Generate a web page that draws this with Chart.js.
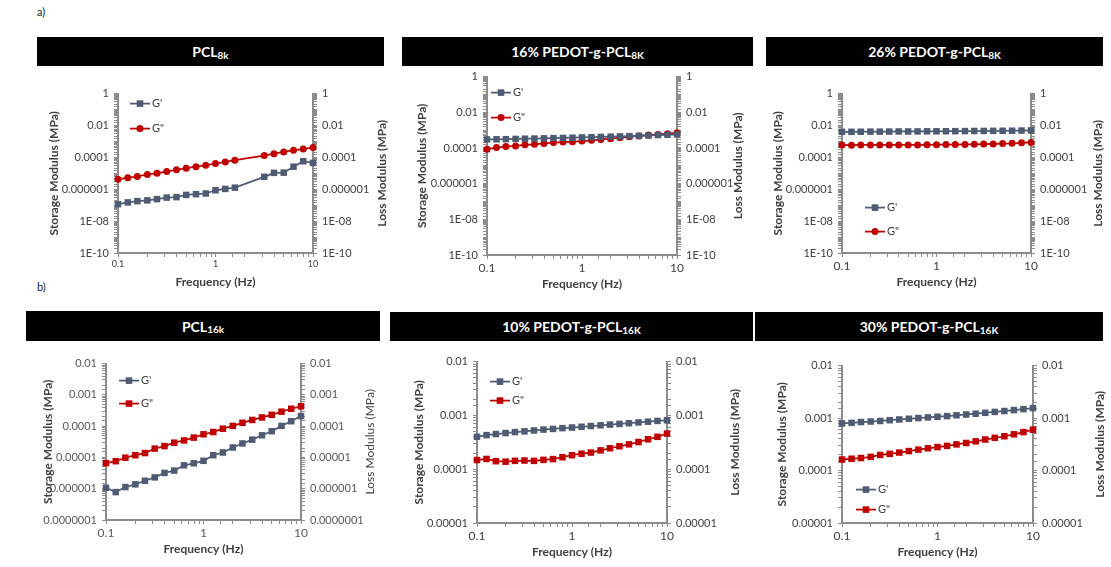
<!DOCTYPE html>
<html>
<head>
<meta charset="utf-8">
<script src="https://cdn.jsdelivr.net/npm/chart.js@4.4.1/dist/chart.umd.min.js"></script>
<style>
  body { margin: 0; background: #fff; width: 1111px; height: 567px; position: relative; overflow: hidden; font-family: Lato, 'Open Sans', sans-serif; }
  .bar { position: absolute; background: #000; color: #fff; font-weight: bold; font-size: 14px; display: flex; align-items: center; justify-content: center; }
  .bar sub { font-size: 10px; position: relative; top: 3px; vertical-align: baseline; }
  .tag { position: absolute; font-size: 11px; color: #222; }
  .panel { position: absolute; }
</style>
</head>
<body>
<div class="tag" style="left:37px;top:5px">a)</div>
<div class="tag" style="left:37px;top:280px">b)</div>

<div class="bar" style="left:37px;top:37px;width:347px;height:29px">PCL<sub>8k</sub></div>
<div class="bar" style="left:402px;top:37px;width:351px;height:29px">16% PEDOT-g-PCL<sub>8K</sub></div>
<div class="bar" style="left:766px;top:37px;width:337px;height:29px">26% PEDOT-g-PCL<sub>8K</sub></div>
<div class="bar" style="left:26px;top:311px;width:354px;height:30px">PCL<sub>16k</sub></div>
<div class="bar" style="left:390px;top:312px;width:363px;height:29px">10% PEDOT-g-PCL<sub>16K</sub></div>
<div class="bar" style="left:755px;top:312px;width:348px;height:29px">30% PEDOT-g-PCL<sub>16K</sub></div>

<div id="panels"></div>

<script>
// frequency sweep (Hz)
const freq = [0.1, 0.126, 0.158, 0.2, 0.251, 0.316, 0.398, 0.501, 0.631, 0.794, 1, 1.26, 1.58, 2, 2.51, 3.16, 3.98, 5.01, 6.31, 7.94, 10];
const freqA1 = [0.1, 0.126, 0.158, 0.2, 0.251, 0.316, 0.398, 0.501, 0.631, 0.794, 1, 1.26, 1.58, 3.16, 3.98, 5.01, 6.31, 7.94, 10];

// a) PCL8k
const a1Storage = [1.15e-7, 1.5e-7, 1.8e-7, 2.0e-7, 2.4e-7, 3.0e-7, 3.2e-7, 4.4e-7, 4.9e-7, 5.4e-7, 8.6e-7, 1.05e-6, 1.26e-6, 6.0e-6, 1.07e-5, 1.1e-5, 2.6e-5, 5.7e-5, 4.5e-5];
const a1Loss = [4.2e-6, 5.3e-6, 6.3e-6, 8.5e-6, 1.0e-5, 1.3e-5, 1.65e-5, 2.1e-5, 2.6e-5, 3.2e-5, 4.1e-5, 5.2e-5, 6.6e-5, 1.3e-4, 1.7e-4, 2.2e-4, 2.8e-4, 3.3e-4, 4.2e-4];
// a) 16% PEDOT-g-PCL8K
const a2Storage = [3.0e-4, 3.05e-4, 3.1e-4, 3.2e-4, 3.3e-4, 3.35e-4, 3.45e-4, 3.55e-4, 3.65e-4, 3.75e-4, 3.9e-4, 4.0e-4, 4.15e-4, 4.3e-4, 4.45e-4, 4.6e-4, 4.8e-4, 5.0e-4, 5.3e-4, 5.5e-4, 5.8e-4];
const a2Loss = [8.5e-5, 1.05e-4, 1.2e-4, 1.3e-4, 1.5e-4, 1.6e-4, 1.8e-4, 2.0e-4, 2.15e-4, 2.25e-4, 2.45e-4, 2.7e-4, 3.0e-4, 3.3e-4, 3.7e-4, 4.3e-4, 4.7e-4, 5.3e-4, 5.7e-4, 6.3e-4, 7.1e-4];
// a) 26% PEDOT-g-PCL8K
const a3Storage = [4.0e-3, 4.0e-3, 4.05e-3, 4.1e-3, 4.1e-3, 4.15e-3, 4.2e-3, 4.2e-3, 4.25e-3, 4.3e-3, 4.3e-3, 4.35e-3, 4.4e-3, 4.45e-3, 4.5e-3, 4.55e-3, 4.6e-3, 4.65e-3, 4.7e-3, 4.8e-3, 4.9e-3];
const a3Loss = [6.0e-4, 5.8e-4, 6.0e-4, 6.0e-4, 6.0e-4, 6.0e-4, 6.0e-4, 6.0e-4, 6.05e-4, 6.1e-4, 6.2e-4, 6.3e-4, 6.4e-4, 6.5e-4, 6.6e-4, 6.8e-4, 7.0e-4, 7.3e-4, 7.6e-4, 8.2e-4, 8.6e-4];
// b) PCL16k
const b1Storage = [1.07e-6, 7.8e-7, 1.13e-6, 1.38e-6, 1.8e-6, 2.3e-6, 3.2e-6, 3.8e-6, 5.6e-6, 6.5e-6, 7.8e-6, 1.18e-5, 1.44e-5, 2.08e-5, 2.8e-5, 3.7e-5, 5.1e-5, 6.9e-5, 1.02e-4, 1.44e-4, 2.1e-4];
const b1Loss = [6.6e-6, 7.6e-6, 9.8e-6, 1.18e-5, 1.38e-5, 1.92e-5, 2.3e-5, 2.96e-5, 3.5e-5, 4.3e-5, 5.5e-5, 6.5e-5, 8.3e-5, 1.02e-4, 1.28e-4, 1.58e-4, 1.9e-4, 2.3e-4, 2.9e-4, 3.6e-4, 4.3e-4];
// b) 10% PEDOT-g-PCL16K
const b2Storage = [4.0e-4, 4.3e-4, 4.5e-4, 4.7e-4, 4.9e-4, 5.05e-4, 5.25e-4, 5.45e-4, 5.6e-4, 5.8e-4, 5.95e-4, 6.15e-4, 6.35e-4, 6.55e-4, 6.75e-4, 6.95e-4, 7.15e-4, 7.4e-4, 7.65e-4, 7.9e-4, 8.1e-4];
const b2Loss = [1.48e-4, 1.55e-4, 1.41e-4, 1.38e-4, 1.43e-4, 1.45e-4, 1.43e-4, 1.49e-4, 1.54e-4, 1.67e-4, 1.82e-4, 1.94e-4, 2.04e-4, 2.24e-4, 2.45e-4, 2.67e-4, 2.9e-4, 3.2e-4, 3.6e-4, 4.0e-4, 4.6e-4];
// b) 30% PEDOT-g-PCL16K
const b3Storage = [7.9e-4, 8.1e-4, 8.4e-4, 8.6e-4, 8.8e-4, 9.1e-4, 9.4e-4, 9.7e-4, 1.0e-3, 1.03e-3, 1.06e-3, 1.09e-3, 1.13e-3, 1.17e-3, 1.21e-3, 1.26e-3, 1.31e-3, 1.36e-3, 1.42e-3, 1.48e-3, 1.55e-3];
const b3Loss = [1.62e-4, 1.68e-4, 1.73e-4, 1.82e-4, 1.98e-4, 2.08e-4, 2.2e-4, 2.35e-4, 2.5e-4, 2.65e-4, 2.8e-4, 2.95e-4, 3.15e-4, 3.35e-4, 3.6e-4, 3.9e-4, 4.2e-4, 4.5e-4, 4.9e-4, 5.4e-4, 6.0e-4];

// tick labels
const xTickValues = [0.1, 1, 10];
const xTickLabels = ['0.1', '1', '10'];
const yTickValuesA = [1e-10, 1e-8, 1e-6, 1e-4, 1e-2, 1];
const yTickLabelsA = ['1E-10', '1E-08', '0.000001', '0.0001', '0.01', '1'];
const yTickValuesB1 = [1e-7, 1e-6, 1e-5, 1e-4, 1e-3, 1e-2];
const yTickLabelsB1 = ['0.0000001', '0.000001', '0.00001', '0.0001', '0.001', '0.01'];
const yTickValuesB23 = [1e-5, 1e-4, 1e-3, 1e-2];
const yTickLabelsB23 = ['0.00001', '0.0001', '0.001', '0.01'];

const seriesNames = ["G'", 'G"'];
const storageColor = '#4f5b73';
const lossColor = '#c00000';
const axisColor = '#8c8c8c';
const textColor = '#404040';

const panels = [
  { plot: [118, 92, 313, 253], fx: freqA1, gp: a1Storage, gpp: a1Loss, yv: yTickValuesA, yl: yTickLabelsA,
    lossMarker: 'circle', leg: [12, 10, 35], xFont: 9, leftW: 75, rightOff: 69, rightBold: true, tickColor: textColor },
  { plot: [487, 75, 677, 255], fx: freq, gp: a2Storage, gpp: a2Loss, yv: yTickValuesA, yl: yTickLabelsA,
    lossMarker: 'circle', leg: [4, 16, 41], xFont: 12, leftW: 76, rightOff: 61, rightBold: true, tickColor: textColor },
  { plot: [842, 92, 1031, 253], fx: freq, gp: a3Storage, gpp: a3Loss, yv: yTickValuesA, yl: yTickLabelsA,
    lossMarker: 'circle', leg: [23, 114, 138], xFont: 12, leftW: 75, rightOff: 67, rightBold: true, tickColor: textColor },
  { plot: [106, 362, 301, 520], fx: freq, gp: b1Storage, gpp: b1Loss, yv: yTickValuesB1, yl: yTickLabelsB1,
    lossMarker: 'rect', leg: [13, 17, 40], xFont: 12, leftW: 69, rightOff: 69, rightBold: false, tickColor: '#595959' },
  { plot: [477, 360, 667, 523], fx: freq, gp: b2Storage, gpp: b2Loss, yv: yTickValuesB23, yl: yTickLabelsB23,
    lossMarker: 'rect', leg: [13, 20, 39], xFont: 12, leftW: 69, rightOff: 68, rightBold: true, tickColor: textColor },
  { plot: [842, 364, 1033, 523], fx: freq, gp: b3Storage, gpp: b3Loss, yv: yTickValuesB23, yl: yTickLabelsB23,
    lossMarker: 'rect', leg: [14, 124, 144], xFont: 12, leftW: 71, rightOff: 67, rightBold: true, tickColor: textColor }
];

const RIGHT_W = 86, TOP_PAD = 10, BOTTOM_H = 40;
const FONT = "Lato, 'Open Sans', sans-serif";

function labelFor(values, labels) {
  return function (v) {
    for (let i = 0; i < values.length; i++) {
      if (Math.abs(Math.log10(v) - Math.log10(values[i])) < 1e-6) return labels[i];
    }
    return '';
  };
}

function markerRadius(style) {
  return style === 'circle' ? 3.5 : 4.6;
}

const overlay = {
  id: 'overlay',
  afterDraw(chart, args, opts) {
    const { ctx, chartArea: a } = chart;
    // right axis title (reads bottom to top)
    ctx.save();
    ctx.translate(a.right + opts.rightOff, (a.top + a.bottom) / 2);
    ctx.rotate(-Math.PI / 2);
    ctx.font = (opts.rightBold ? 'bold ' : '') + '12px ' + FONT;
    ctx.fillStyle = textColor;
    ctx.textAlign = 'center';
    ctx.textBaseline = 'middle';
    ctx.fillText('Loss Modulus (MPa)', 0, 0);
    ctx.restore();
    // legend inside plot
    chart.data.datasets.forEach((ds, i) => {
      const x = a.left + opts.leg[0];
      const y = a.top + opts.leg[i + 1];
      ctx.save();
      ctx.strokeStyle = ds.borderColor;
      ctx.lineWidth = 1.75;
      ctx.beginPath();
      ctx.moveTo(x, y);
      ctx.lineTo(x + 20, y);
      ctx.stroke();
      ctx.fillStyle = ds.backgroundColor;
      if (ds.pointStyle === 'circle') {
        ctx.beginPath();
        ctx.arc(x + 10, y, 3.5, 0, Math.PI * 2);
        ctx.fill();
      } else {
        ctx.fillRect(x + 6.7, y - 3.3, 6.6, 6.6);
      }
      ctx.fillStyle = textColor;
      ctx.font = '11px ' + FONT;
      ctx.textBaseline = 'middle';
      ctx.fillText(ds.label, x + 22, y);
      ctx.restore();
    });
  }
};

const host = document.getElementById('panels');

panels.forEach((p) => {
  const [l, t, r, b] = p.plot;
  const wrap = document.createElement('div');
  wrap.className = 'panel';
  const cw = (r - l) + p.leftW + RIGHT_W;
  const ch = (b - t) + TOP_PAD + BOTTOM_H;
  wrap.style.left = (l - p.leftW) + 'px';
  wrap.style.top = (t - TOP_PAD) + 'px';
  const canvas = document.createElement('canvas');
  canvas.width = cw;
  canvas.height = ch;
  canvas.style.width = cw + 'px';
  canvas.style.height = ch + 'px';
  wrap.appendChild(canvas);
  host.appendChild(wrap);

  const yMin = p.yv[0], yMax = p.yv[p.yv.length - 1];
  const yTickFmt = labelFor(p.yv, p.yl);

  const gridCfg = {
    display: true,
    drawOnChartArea: false,
    drawTicks: true,
    tickLength: 4,
    color: axisColor,
    lineWidth: 1
  };

  const makeSet = (name, ys, color, style) => ({
    label: name,
    data: p.fx.map((f, i) => ({ x: f, y: ys[i] })),
    borderColor: color,
    backgroundColor: color,
    borderWidth: 1.75,
    pointStyle: style,
    pointRadius: markerRadius(style),
    pointBorderWidth: 0,
    clip: false,
    yAxisID: 'y'
  });

  new Chart(canvas, {
    type: 'line',
    data: {
      datasets: [
        makeSet(seriesNames[0], p.gp, storageColor, 'rect'),
        makeSet(seriesNames[1], p.gpp, lossColor, p.lossMarker)
      ]
    },
    options: {
      responsive: false,
      animation: false,
      layout: { padding: { top: TOP_PAD, left: 0, right: 0, bottom: 0 } },
      plugins: {
        legend: { display: false },
        tooltip: { enabled: false },
        overlay: { rightOff: p.rightOff, rightBold: p.rightBold, leg: p.leg }
      },
      scales: {
        x: {
          type: 'logarithmic',
          min: 0.1,
          max: 10,
          border: { display: true, color: axisColor, width: 2 },
          grid: gridCfg,
          ticks: {
            autoSkip: false,
            maxRotation: 0,
            padding: 2,
            color: p.tickColor,
            font: { family: FONT, size: p.xFont },
            callback: labelFor(xTickValues, xTickLabels)
          },
          title: {
            display: true,
            text: 'Frequency (Hz)',
            color: textColor,
            font: { family: FONT, size: 12, weight: 'bold' },
            padding: { top: 0, bottom: 4 }
          },
          afterFit(scale) { scale.height = BOTTOM_H; }
        },
        y: {
          type: 'logarithmic',
          position: 'left',
          min: yMin,
          max: yMax,
          border: { display: true, color: axisColor, width: 2 },
          grid: gridCfg,
          ticks: {
            autoSkip: false,
            padding: 5,
            color: p.tickColor,
            font: { family: FONT, size: 11 },
            callback: yTickFmt
          },
          title: {
            display: true,
            text: 'Storage Modulus (MPa)',
            color: textColor,
            font: { family: FONT, size: 12, weight: 'bold' },
            padding: { top: 4, bottom: 0 }
          },
          afterFit(scale) { scale.width = p.leftW; }
        },
        y1: {
          type: 'logarithmic',
          position: 'right',
          min: yMin,
          max: yMax,
          border: { display: true, color: axisColor, width: 2 },
          grid: gridCfg,
          ticks: {
            autoSkip: false,
            padding: 5,
            color: p.tickColor,
            font: { family: FONT, size: 11 },
            callback: yTickFmt
          },
          afterFit(scale) { scale.width = RIGHT_W; }
        }
      }
    },
    plugins: [overlay]
  });
});
</script>
</body>
</html>
